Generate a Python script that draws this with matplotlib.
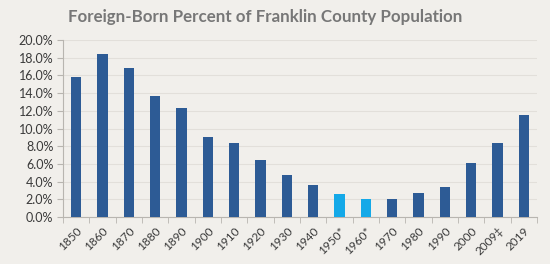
import matplotlib.pyplot as plt
import numpy as np
from matplotlib.ticker import PercentFormatter

plt.rcParams['font.family'] = ['Lato', 'DejaVu Sans']

years = ['1850', '1860', '1870', '1880', '1890', '1900', '1910', '1920', '1930',
         '1940', '1950*', '1960*', '1970', '1980', '1990', '2000', '2009‡', '2019']
pct = [15.8, 18.4, 16.8, 13.7, 12.3, 9.0, 8.4, 6.4, 4.8,
       3.6, 2.6, 2.05, 2.0, 2.75, 3.4, 6.05, 8.35, 11.5]
estimated = ['1950*', '1960*']

bg = '#f1efeb'
dark = '#2d5b95'
light = '#14a9e8'

fig = plt.figure(figsize=(5.5, 2.64), dpi=100, facecolor=bg)
ax = fig.add_axes([63 / 550, 1 - 217 / 264, 474 / 550, 177 / 264], facecolor=bg)

x = np.arange(len(years))
colors = [light if y in estimated else dark for y in years]
ax.bar(x, pct, width=0.4, color=colors, zorder=3)

ax.set_xlim(-0.5, len(years) - 0.5)
ax.set_ylim(0, 20)
ax.set_yticks(np.arange(0, 20.1, 2))
ax.yaxis.set_major_formatter(PercentFormatter(decimals=1))
ax.grid(axis='y', color='#e2dfda', lw=0.8, zorder=0)

ax.set_xticks(x)
ax.set_xticklabels(years, rotation=45, ha='right', rotation_mode='anchor')
ax.set_xticks(np.arange(-0.5, len(years)), minor=True)
ax.tick_params(axis='x', which='major', length=0, pad=6, labelsize=8.5, labelcolor='#3a3a3a')
ax.tick_params(axis='x', which='minor', length=4, color='#b8b5b0')
ax.tick_params(axis='y', length=4, color='#b8b5b0', labelsize=9, labelcolor='#3a3a3a', pad=3)

for s in ['top', 'right']:
    ax.spines[s].set_visible(False)
for s in ['left', 'bottom']:
    ax.spines[s].set_color('#b8b5b0')

fig.text(0.482, 0.935, 'Foreign-Born Percent of Franklin County Population',
         ha='center', va='center', fontsize=12.2, fontweight='bold', color='#777777')

fig.savefig('out.png', dpi=100, facecolor=bg)
